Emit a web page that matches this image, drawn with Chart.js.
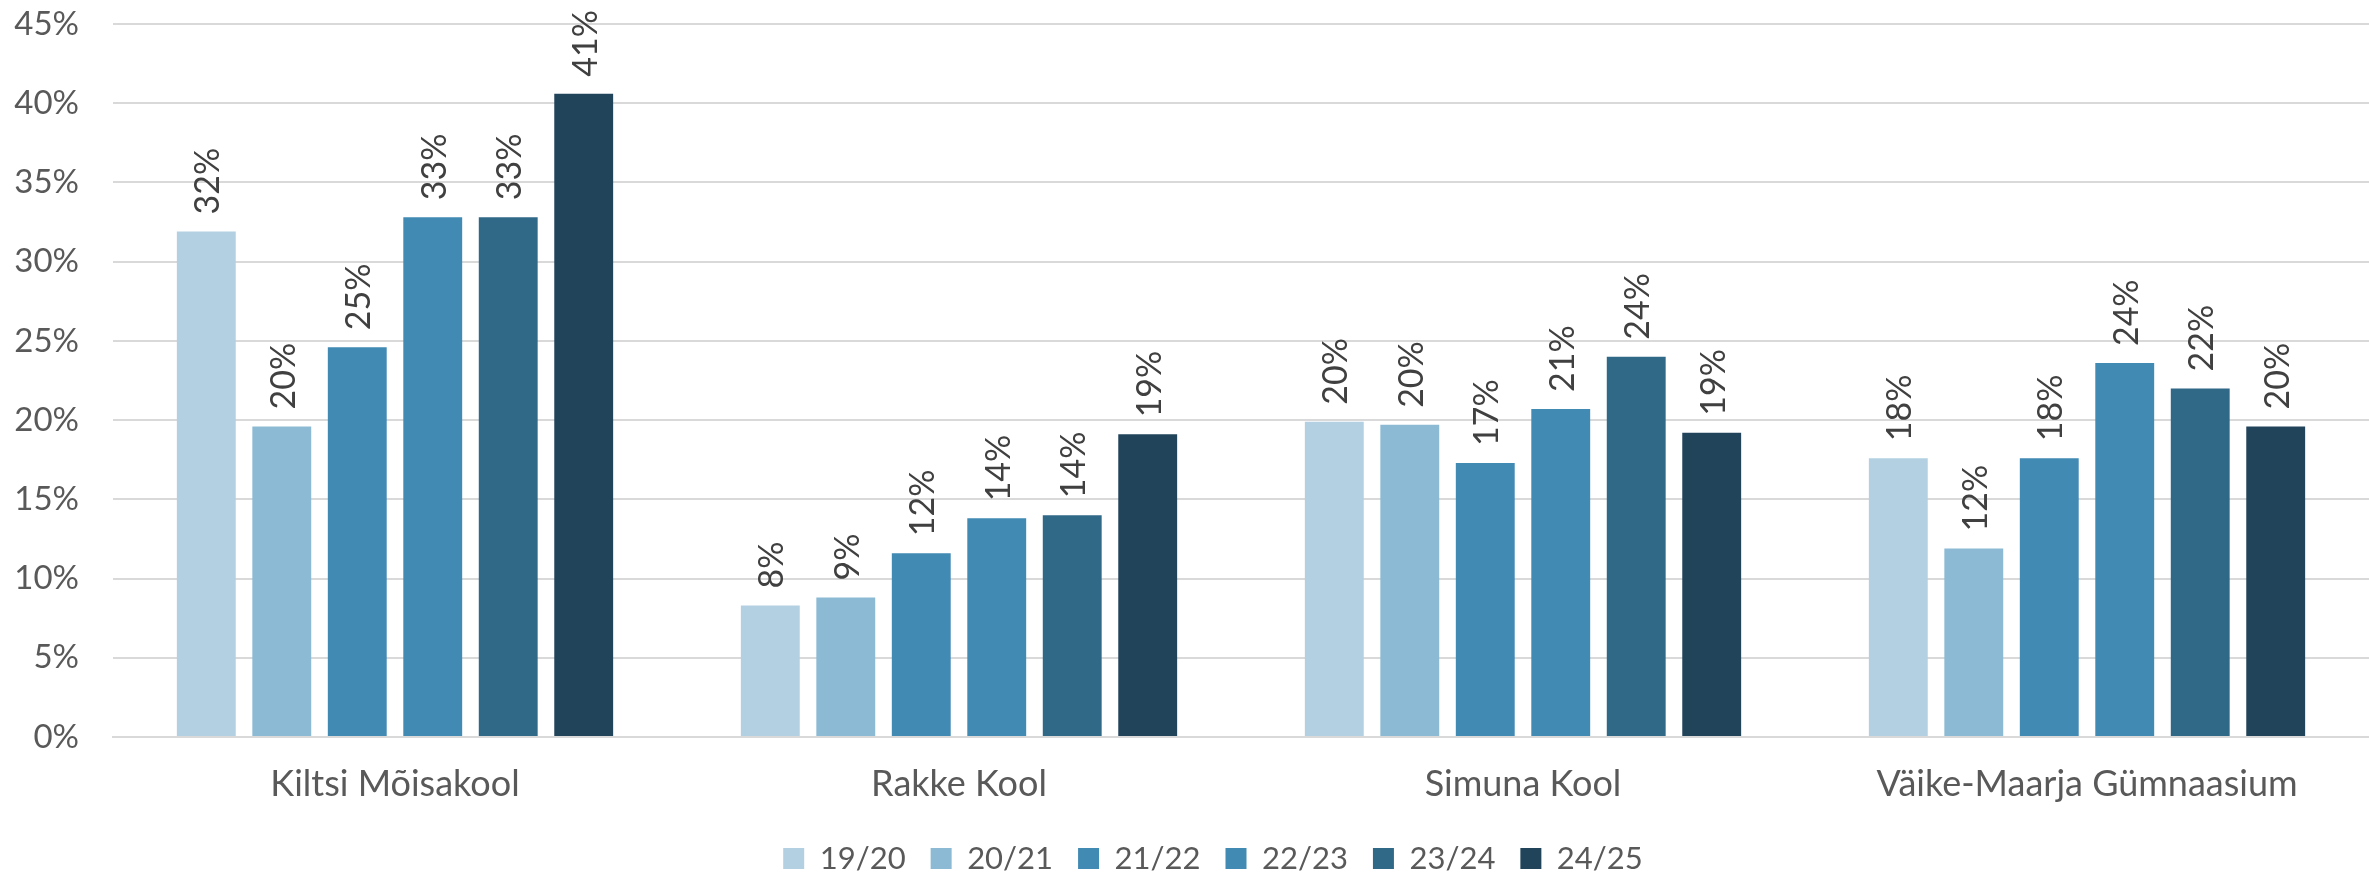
<!DOCTYPE html>
<html>
<head>
<meta charset="utf-8">
<script src="https://cdn.jsdelivr.net/npm/chart.js@4"></script>
<style>
  html, body { margin: 0; padding: 0; background: #fff; }
  #wrap { width: 2369px; height: 875px; }
</style>
</head>
<body>
<div id="wrap"><canvas id="chart" width="2369" height="875"></canvas></div>
<script>
const schools = ['Kiltsi Mõisakool', 'Rakke Kool', 'Simuna Kool', 'Väike-Maarja Gümnaasium'];
const years = ['19/20', '20/21', '21/22', '22/23', '23/24', '24/25'];

// share in percent, one array per school year
const y1920 = [31.9, 8.3, 19.9, 17.6];
const y2021 = [19.6, 8.8, 19.7, 11.9];
const y2122 = [24.6, 11.6, 17.3, 17.6];
const y2223 = [32.8, 13.8, 20.7, 23.6];
const y2324 = [32.8, 14.0, 24.0, 22.0];
const y2425 = [40.6, 19.1, 19.2, 19.6];

const yTicks = [0, 5, 10, 15, 20, 25, 30, 35, 40, 45];

const colors = ['#b2d0e2', '#8cbad4', '#418ab3', '#418ab3', '#306887', '#21445b'];
const series = [y1920, y2021, y2122, y2223, y2324, y2425];

const FONT = 'Lato, "Open Sans", sans-serif';

// rotated value labels above each bar
const barLabels = {
  id: 'barLabels',
  afterDatasetsDraw(chart) {
    const c = chart.ctx;
    c.save();
    c.font = '34px ' + FONT;
    c.fillStyle = '#404040';
    c.textAlign = 'left';
    c.textBaseline = 'middle';
    chart.data.datasets.forEach((ds, i) => {
      chart.getDatasetMeta(i).data.forEach((bar, j) => {
        c.save();
        c.translate(bar.x + 2, bar.y - 17);
        c.rotate(-Math.PI / 2);
        c.fillText(Math.round(ds.data[j]) + '%', 0, 0);
        c.restore();
      });
    });
    c.restore();
  }
};

const chart = new Chart(document.getElementById('chart').getContext('2d'), {
  type: 'bar',
  data: {
    labels: schools,
    datasets: years.map((y, i) => ({
      label: y,
      data: series[i],
      backgroundColor: colors[i],
      borderWidth: 0,
      categoryPercentage: 0.803,
      barPercentage: 0.78
    }))
  },
  options: {
    responsive: false,
    animation: false,
    layout: { padding: { top: 24, right: 0, bottom: 0, left: 0 } },
    scales: {
      x: {
        afterFit(scale) { scale.height = 81; },
        grid: { display: false, drawTicks: false },
        border: { display: true, color: '#d9d9d9', width: 2 },
        ticks: { color: '#595959', font: { family: FONT, size: 36 }, padding: 26 }
      },
      y: {
        min: 0,
        max: 45,
        afterBuildTicks(scale) { scale.ticks = yTicks.map(v => ({ value: v })); },
        afterFit(scale) {
          scale.width = 113;
          scale.paddingTop = 0;
        },
        grid: { color: '#d9d9d9', lineWidth: 2, drawTicks: false },
        border: { display: false },
        ticks: {
          color: '#595959',
          font: { family: FONT, size: 33 },
          padding: 34,
          callback: v => v + '%'
        }
      }
    },
    plugins: {
      legend: {
        position: 'bottom',
        fullSize: false,
        labels: {
          color: '#595959',
          font: { family: FONT, size: 31 },
          boxWidth: 21,
          boxHeight: 21,
          padding: 25
        }
      },
      tooltip: { enabled: false }
    }
  },
  plugins: [barLabels]
});

// keep the legend strip short and sit it a little left of the plot centre
const legendFit = chart.legend.fit;
chart.legend.fit = function() {
  legendFit.call(this);
  this.height = 57;
};
const legendDraw = chart.legend.draw;
chart.legend.draw = function() {
  this.ctx.save();
  this.ctx.translate(-28, 0);
  legendDraw.call(this);
  this.ctx.restore();
};
chart.update();
</script>
</body>
</html>
